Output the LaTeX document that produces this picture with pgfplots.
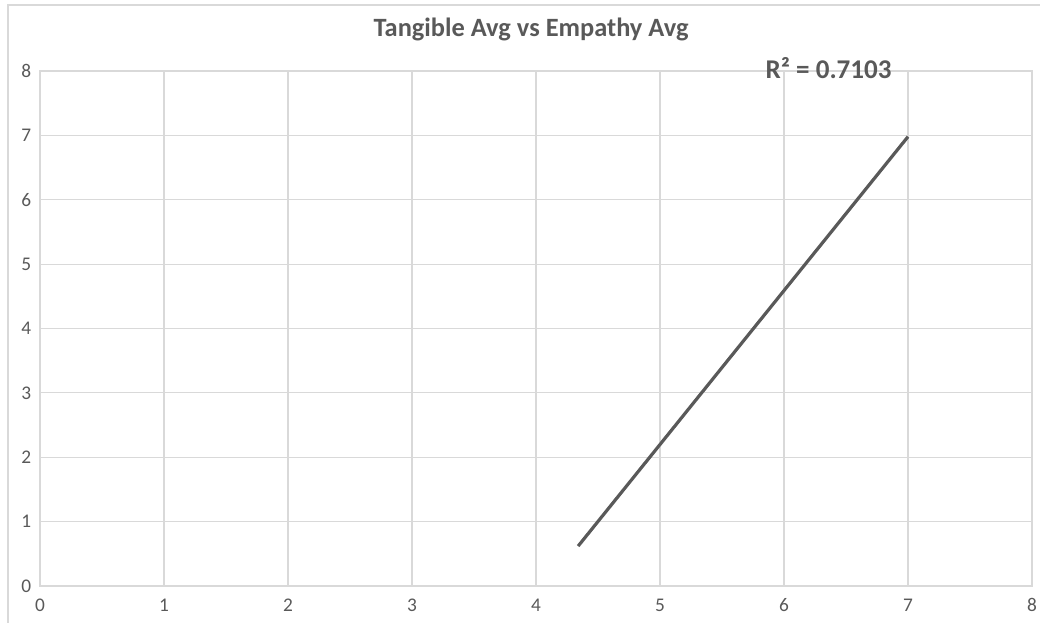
\documentclass[border=0pt]{standalone}
\usepackage{pgfplots}
\pgfplotsset{compat=1.18}
\usepackage{fontspec}
\setmainfont{Carlito}
\definecolor{txt}{HTML}{595959}
\definecolor{grd}{HTML}{D9D9D9}
\begin{document}
\begin{tikzpicture}
\begin{axis}[
  at={(0,0)}, anchor=south west,
  scale only axis, width=744pt, height=386.25pt,
  xmin=0, xmax=8, ymin=0, ymax=8,
  xtick={0,...,8}, ytick={0,...,8},
  grid=major, major grid style={grd, line width=0.9pt},
  axis line style={grd, line width=0.9pt},
  tick style={draw=none},
  ticklabel style={font=\fontsize{14.5}{15}\selectfont, text=txt},
  /pgf/number format/assume math mode=true,
  xticklabel style={yshift=-6pt},
  yticklabel style={xshift=-3pt},
  clip=false,
]
\addplot[txt, line width=2.4pt, no marks] coordinates {(4.34,0.62) (7.0,6.98)};
\node[font=\fontsize{19.8}{23}\selectfont\bfseries, text=txt] at (axis cs:3.96,8.64) {Tangible Avg vs Empathy Avg};
\node[font=\fontsize{20.3}{23}\selectfont\bfseries, text=txt] at (axis cs:6.36,8.04) {R² = 0.7103};
\end{axis}
\draw[grd, line width=0.9pt] (-24pt,-40pt) -- (-24pt,435.75pt) -- (760pt,435.75pt);
\pgfresetboundingbox
\path (-30pt,-27pt) rectangle (750pt,439.5pt);
\end{tikzpicture}
\end{document}
